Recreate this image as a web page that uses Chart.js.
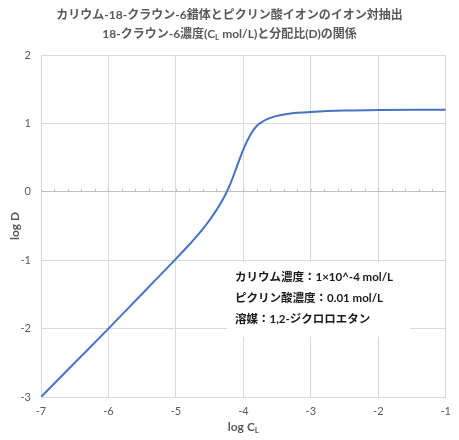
<!DOCTYPE html>
<html lang="ja">
<head>
<meta charset="UTF-8">
<title>log D vs log CL</title>
<style>
  body { margin: 0; background: #fff; }
  canvas { display: block; }
</style>
</head>
<body>
<canvas id="chart" width="459" height="440"></canvas>
<script src="https://cdn.jsdelivr.net/npm/chart.js@4"></script>
<script>
// values
const logCL = [-7, -6.5, -6, -5.5, -5, -4.9, -4.8, -4.7, -4.6, -4.5, -4.4, -4.3, -4.2, -4.1, -4.0, -3.9, -3.8, -3.7, -3.6, -3.5, -3.4, -3.3, -3.2, -3.0, -2.5, -2.0, -1.5, -1.0];
const logD = [-3.0, -2.5, -2.0, -1.49, -0.98, -0.877, -0.771, -0.66, -0.542, -0.412, -0.268, -0.105, 0.10, 0.36, 0.62, 0.825, 0.965, 1.035, 1.08, 1.11, 1.13, 1.145, 1.155, 1.168, 1.188, 1.197, 1.20, 1.20];
const xTicks = [-7, -6, -5, -4, -3, -2, -1];
const yTicks = [-3, -2, -1, 0, 1, 2];
const titleLine1 = 'カリウム-18-クラウン-6錯体とピクリン酸イオンのイオン対抽出';
const titleLine2 = [['18-クラウン-6濃度(C', false], ['L', true], [' mol/L)と分配比(D)の関係', false]];
const xTitle = [['log C', false], ['L', true]];
const noteLines = ['カリウム濃度：1×10^-4 mol/L', 'ピクリン酸濃度：0.01 mol/L', '溶媒：1,2-ジクロロエタン'];

const FONT = 'Lato, "Noto Sans CJK JP", sans-serif';
Chart.defaults.font.family = FONT;
Chart.defaults.color = '#595959';

function drawRich(ctx, parts, cx, cy, size) {
  const big = 'bold ' + size + 'px ' + FONT;
  const small = 'bold ' + Math.round(size * 0.65) + 'px ' + FONT;
  let w = 0;
  parts.forEach(p => { ctx.font = p[1] ? small : big; w += ctx.measureText(p[0]).width; });
  let x = cx - w / 2;
  ctx.textBaseline = 'middle';
  ctx.textAlign = 'left';
  parts.forEach(p => {
    ctx.font = p[1] ? small : big;
    ctx.fillText(p[0], x, p[1] ? cy + 3 : cy);
    x += ctx.measureText(p[0]).width;
  });
}

const extras = {
  id: 'extras',
  beforeDatasetsDraw(chart) {
    // axis line at y = 0 with small minor ticks
    const ctx = chart.ctx, xs = chart.scales.x, ys = chart.scales.y;
    const y0 = ys.getPixelForValue(0);
    ctx.save();
    ctx.strokeStyle = '#bfbfbf';
    ctx.lineWidth = 1;
    ctx.beginPath();
    for (let v = -7; v <= -1.0001; v += 0.2) {
      const px = Math.round(xs.getPixelForValue(v)) + 0.5;
      ctx.moveTo(px, y0);
      ctx.lineTo(px, y0 - 3);
    }
    ctx.stroke();
    ctx.restore();
  },
  afterDraw(chart) {
    const ctx = chart.ctx, area = chart.chartArea;
    ctx.save();
    ctx.fillStyle = '#595959';
    ctx.textAlign = 'center';
    ctx.textBaseline = 'middle';
    ctx.font = 'bold 12px ' + FONT;
    ctx.fillText(titleLine1, 229.5, 15);
    drawRich(ctx, titleLine2, 229.5, 34, 12);
    drawRich(ctx, xTitle, (area.left + area.right) / 2, 427, 12);

    // note box
    ctx.fillStyle = '#fff';
    ctx.fillRect(227, 262, 183, 75);
    ctx.fillStyle = '#1a1a1a';
    ctx.textAlign = 'left';
    ctx.font = 'bold 11.5px ' + FONT;
    noteLines.forEach((t, i) => ctx.fillText(t, 235, 277 + i * 21));
    ctx.restore();
  }
};

new Chart(document.getElementById('chart'), {
  type: 'scatter',
  data: {
    datasets: [{
      data: logCL.map((x, i) => ({ x: x, y: logD[i] })),
      showLine: true,
      borderColor: '#4472C4',
      borderWidth: 2,
      pointRadius: 0,
      cubicInterpolationMode: 'monotone',
      fill: false
    }]
  },
  options: {
    responsive: false,
    animation: false,
    layout: { padding: { top: 55, right: 8, left: 0, bottom: 0 } },
    plugins: { legend: { display: false }, tooltip: { enabled: false } },
    scales: {
      x: {
        type: 'linear',
        min: -7, max: -1,
        afterBuildTicks: s => { s.ticks = xTicks.map(v => ({ value: v })); },
        afterFit: s => { s.height = 43; },
        grid: { color: '#d9d9d9', drawTicks: false },
        border: { display: false },
        ticks: { padding: 8, font: { size: 11 }, color: '#595959' }
      },
      y: {
        min: -3, max: 2,
        afterBuildTicks: s => { s.ticks = yTicks.map(v => ({ value: v })); },
        afterFit: s => { s.width = 41; },
        grid: { color: c => c.tick && c.tick.value === 0 ? '#bfbfbf' : '#d9d9d9', drawTicks: false },
        border: { display: false },
        ticks: { padding: 10, font: { size: 11 }, color: '#595959' },
        title: { display: true, text: 'log D', font: { size: 12, weight: 'bold' }, color: '#595959', padding: { top: 8, bottom: 0 } }
      }
    }
  },
  plugins: [extras]
});
</script>
</body>
</html>
